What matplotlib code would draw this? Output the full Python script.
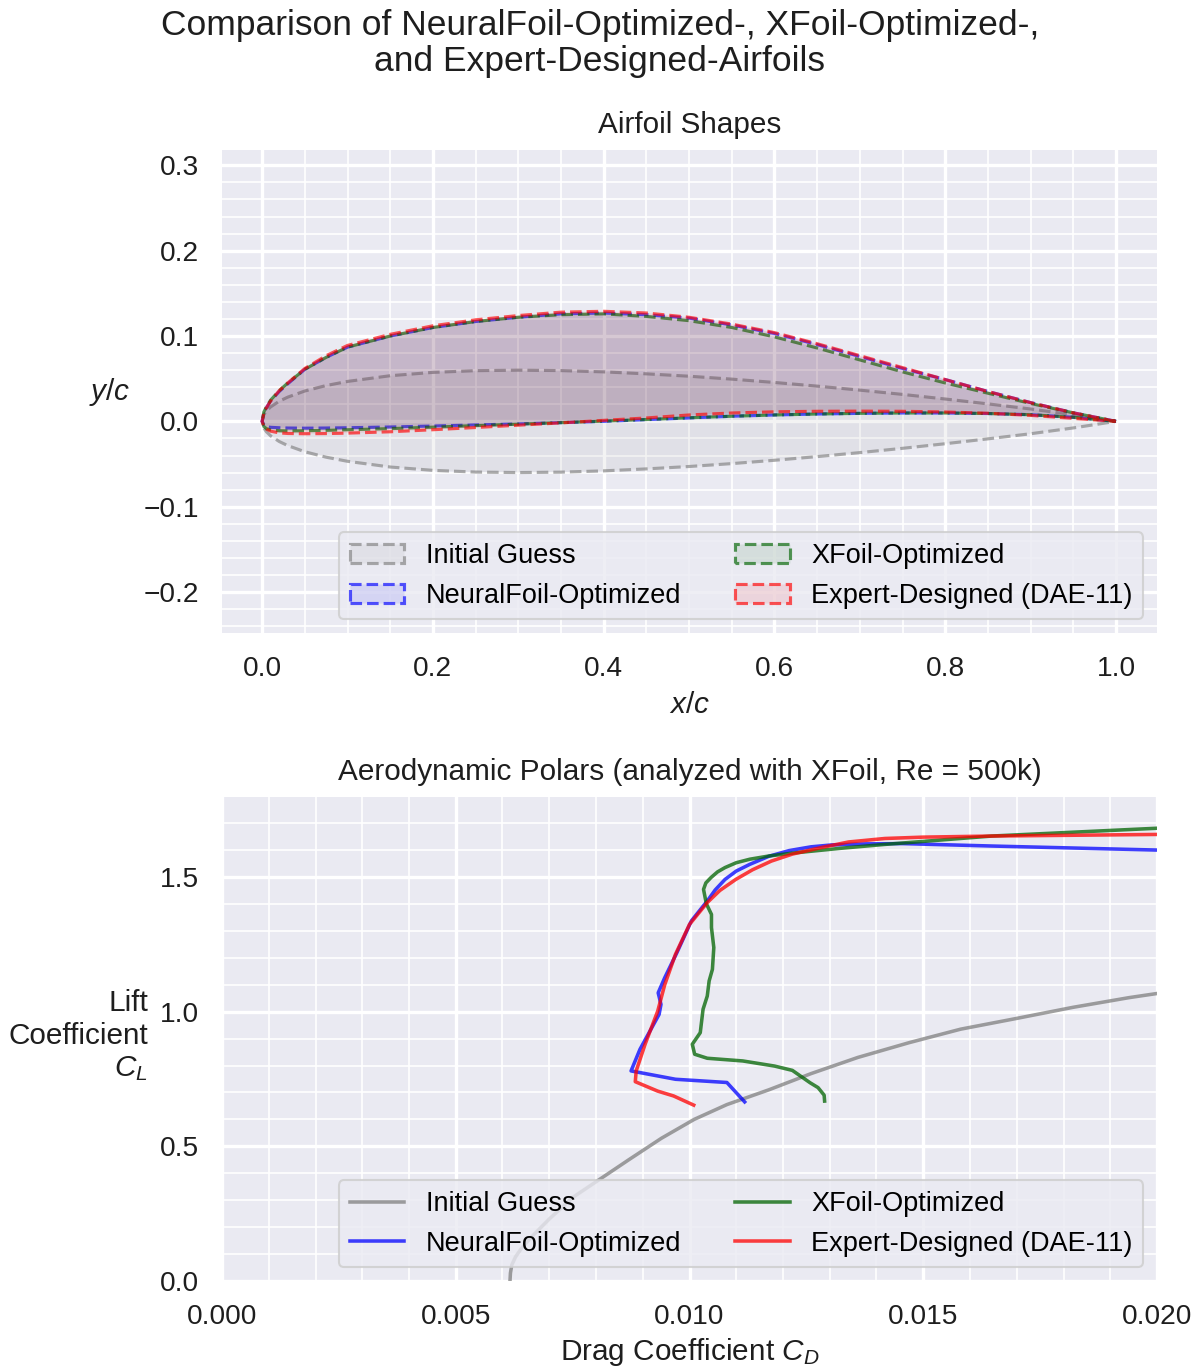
import numpy as np
import matplotlib
matplotlib.use("Agg")
import matplotlib.pyplot as plt
from matplotlib.ticker import AutoMinorLocator, MultipleLocator, FormatStrFormatter
from matplotlib.colors import to_rgba

plt.rcParams['font.family'] = ['Liberation Sans', 'DejaVu Sans']
plt.rcParams['mathtext.fontset'] = 'custom'
plt.rcParams['mathtext.it'] = 'Liberation Sans:italic'
plt.rcParams['mathtext.rm'] = 'Liberation Sans'
plt.rcParams['mathtext.bf'] = 'Liberation Sans:bold'
plt.rcParams['axes.unicode_minus'] = True

# ---------------- data: airfoil shapes ----------------
x_c = [0, 0.002, 0.005, 0.01, 0.02, 0.03, 0.05, 0.075, 0.1, 0.15, 0.2, 0.25, 0.3, 0.35,
       0.4, 0.45, 0.5, 0.55, 0.6, 0.65, 0.7, 0.75, 0.8, 0.85, 0.9, 0.95, 1.0]

init_upper = [0, 0.0078, 0.0122, 0.0170, 0.0236, 0.0284, 0.0356, 0.0420, 0.0468, 0.0535,
              0.0574, 0.0594, 0.0600, 0.0595, 0.0580, 0.0557, 0.0529, 0.0495, 0.0456,
              0.0413, 0.0366, 0.0316, 0.0262, 0.0205, 0.0145, 0.0077, 0.0]
init_lower = [0, -0.0078, -0.0122, -0.0170, -0.0236, -0.0284, -0.0356, -0.0420, -0.0468,
              -0.0535, -0.0574, -0.0594, -0.0600, -0.0595, -0.0580, -0.0557, -0.0529,
              -0.0495, -0.0456, -0.0413, -0.0366, -0.0316, -0.0262, -0.0205, -0.0145,
              -0.0077, 0.0]

nf_upper = [0, 0.010, 0.016, 0.024, 0.035, 0.044, 0.061, 0.075, 0.087, 0.100, 0.110, 0.117,
            0.122, 0.126, 0.127, 0.125, 0.121, 0.113, 0.103, 0.090, 0.076, 0.062, 0.049,
            0.035, 0.022, 0.010, 0.0]
nf_lower = [0, -0.004, -0.006, -0.007, -0.0075, -0.0078, -0.008, -0.0078, -0.0075, -0.0066,
            -0.0055, -0.0042, -0.003, -0.0015, 0.0, 0.002, 0.004, 0.006, 0.0075, 0.0086,
            0.0094, 0.0098, 0.0098, 0.0092, 0.0078, 0.0048, 0.0]

xf_upper = [0, 0.011, 0.017, 0.025, 0.036, 0.045, 0.061, 0.075, 0.087, 0.100, 0.110, 0.117,
            0.122, 0.125, 0.126, 0.123, 0.118, 0.110, 0.099, 0.086, 0.072, 0.058, 0.045,
            0.033, 0.021, 0.010, 0.0]
xf_lower = [0, -0.006, -0.0085, -0.010, -0.011, -0.0112, -0.011, -0.0105, -0.0098, -0.0085,
            -0.0068, -0.005, -0.0033, -0.0015, 0.0003, 0.0022, 0.0042, 0.006, 0.0075,
            0.0086, 0.0094, 0.0098, 0.0098, 0.0092, 0.0078, 0.0048, 0.0]

dae_upper = [0, 0.010, 0.016, 0.024, 0.036, 0.045, 0.062, 0.077, 0.089, 0.102, 0.112, 0.119,
             0.124, 0.128, 0.129, 0.127, 0.122, 0.114, 0.104, 0.091, 0.077, 0.063, 0.049,
             0.035, 0.022, 0.010, 0.0]
dae_lower = [0, -0.006, -0.009, -0.0115, -0.0135, -0.0142, -0.0145, -0.0143, -0.0138, -0.0122,
             -0.0098, -0.0072, -0.0045, -0.0018, 0.0012, 0.004, 0.0075, 0.0098, 0.0112,
             0.0118, 0.012, 0.0118, 0.011, 0.0095, 0.007, 0.0035, 0.0]

# ---------------- data: polars ----------------
init_cd = [0.00616, 0.00617, 0.0062, 0.00628, 0.0064, 0.0066, 0.0068, 0.0070, 0.0075, 0.0081,
           0.0087, 0.0094, 0.0101, 0.0108, 0.0117, 0.0126, 0.0136, 0.0147, 0.0158, 0.0170,
           0.0182, 0.0194, 0.0201]
init_cl = [0.0, 0.03, 0.06, 0.09, 0.12, 0.16, 0.195, 0.23, 0.31, 0.38, 0.45, 0.53, 0.60, 0.655,
           0.71, 0.77, 0.83, 0.885, 0.935, 0.975, 1.016, 1.052, 1.07]

nf_cd = [0.01118, 0.0108, 0.0097, 0.00875, 0.00894, 0.00935, 0.00939, 0.00933, 0.00947,
         0.00973, 0.01004, 0.01038, 0.01055, 0.01076, 0.0110, 0.01129, 0.0117, 0.01213,
         0.0126, 0.01304, 0.0138, 0.01456, 0.01646, 0.0200]
nf_cl = [0.665, 0.737, 0.749, 0.780, 0.86, 0.99, 1.027, 1.070, 1.126, 1.219, 1.337, 1.411,
         1.452, 1.491, 1.522, 1.547, 1.577, 1.598, 1.612, 1.619, 1.623, 1.624, 1.615, 1.600]

xf_cd = [0.01289, 0.01288, 0.01275, 0.01258, 0.0122, 0.01182, 0.01114, 0.01038, 0.01011,
         0.01006, 0.01023, 0.01029, 0.01038, 0.01042, 0.01049, 0.01052, 0.01047, 0.01047,
         0.01036, 0.0103, 0.01035, 0.01046, 0.0106, 0.01076, 0.0110, 0.01129, 0.0117,
         0.01228, 0.0132, 0.01418, 0.01646, 0.0200]
xf_cl = [0.668, 0.69, 0.718, 0.736, 0.782, 0.798, 0.817, 0.827, 0.842, 0.879, 0.922, 1.009,
         1.058, 1.114, 1.157, 1.238, 1.312, 1.361, 1.401, 1.454, 1.478, 1.498, 1.519, 1.535,
         1.553, 1.566, 1.578, 1.590, 1.606, 1.621, 1.652, 1.681]

dae_cd = [0.01009, 0.00966, 0.00932, 0.00884, 0.00886, 0.00905, 0.00932, 0.00947, 0.0097,
          0.0100, 0.01038, 0.01065, 0.01099, 0.01135, 0.01175, 0.0122, 0.01281, 0.0134,
          0.01418, 0.0150, 0.01646, 0.0200]
dae_cl = [0.653, 0.687, 0.705, 0.74, 0.78, 0.879, 1.002, 1.10, 1.213, 1.324, 1.405, 1.45,
          1.491, 1.527, 1.559, 1.585, 1.609, 1.630, 1.643, 1.648, 1.652, 1.658]

labels = ["Initial Guess", "NeuralFoil-Optimized", "XFoil-Optimized", "Expert-Designed (DAE-11)"]
colors = ["gray", "blue", "darkgreen", "red"]

# ---------------- figure ----------------
W, H = 1200, 1369
fig = plt.figure(figsize=(W / 150, H / 150), dpi=150)
ax1 = fig.add_axes([222 / W, 1 - 633 / H, 935 / W, 483 / H])
ax2 = fig.add_axes([222 / W, 1 - 1281 / H, 935 / W, 484 / H])

txt = '#1e1e1e'
bg = "#EAEAF2"
for ax in (ax1, ax2):
    ax.set_facecolor(bg)
    for s in ax.spines.values():
        s.set_visible(False)
    ax.xaxis.set_minor_locator(AutoMinorLocator())
    ax.yaxis.set_minor_locator(AutoMinorLocator())
    ax.grid(which='major', color='white', linewidth=1.6)
    ax.grid(which='minor', color='white', linewidth=0.8)
    ax.set_axisbelow(True)
    ax.tick_params(which='both', length=0, labelsize=13.5, pad=11, labelcolor=txt)

# ---- top: shapes ----
x_arr = np.array(x_c)
shapes = [(init_upper, init_lower), (nf_upper, nf_lower), (xf_upper, xf_lower),
          (dae_upper, dae_lower)]
offsets = [0, 0, 2.5, 5.0]
for (up, lo), c, lab, off in zip(shapes, colors, labels, offsets):
    xp = np.concatenate([x_arr[::-1], x_arr[1:]])
    yp = np.concatenate([np.array(up)[::-1], np.array(lo)[1:]])
    ax1.fill(xp, yp, facecolor=to_rgba(c, 0.09), edgecolor=to_rgba(c, 0.65),
             linestyle=(off, (3.7, 1.6)), linewidth=1.5, label=lab)

ax1.set_xlim(-0.047, 1.048)
ax1.set_ylim(-0.248, 0.318)
ax1.xaxis.set_major_locator(MultipleLocator(0.2))
ax1.yaxis.set_major_locator(MultipleLocator(0.1))
ax1.set_title("Airfoil Shapes", fontsize=14.3, pad=8, color=txt)
ax1.set_xlabel("$x/c$", fontsize=14.3, va='center', color=txt)
ax1.xaxis.set_label_coords(0.5, -0.149)
ax1.set_ylabel("$y/c$", fontsize=14.3, rotation=0, ha='right', va='center', color=txt)
ax1.yaxis.set_label_coords(-0.098, 0.5)
ax1.legend(ncol=2, loc='lower right', fontsize=13, frameon=True,
           facecolor=bg, edgecolor='0.8', framealpha=0.8)

# ---- bottom: polars ----
polars = [(init_cd, init_cl), (nf_cd, nf_cl), (xf_cd, xf_cl), (dae_cd, dae_cl)]
for (cd, cl), c, lab in zip(polars, colors, labels):
    ax2.plot(cd, cl, color=c, alpha=0.75, linewidth=1.7, label=lab,
             solid_joinstyle='round')

ax2.set_xlim(0, 0.02)
ax2.set_ylim(0, 1.797)
ax2.xaxis.set_major_locator(MultipleLocator(0.005))
ax2.yaxis.set_major_locator(MultipleLocator(0.5))
ax2.xaxis.set_major_formatter(FormatStrFormatter('%.3f'))
ax2.yaxis.set_major_formatter(FormatStrFormatter('%.1f'))
ax2.set_title("Aerodynamic Polars (analyzed with XFoil, Re = 500k)", fontsize=14.3, pad=8,
              color=txt)
ax2.set_xlabel("Drag Coefficient $C_D$", fontsize=14.3, va='center', color=txt)
ax2.xaxis.set_label_coords(0.5, -0.1467)
ax2.set_ylabel("Lift\nCoefficient\n$C_L$", fontsize=14.3, rotation=0, ha='right',
               va='center', multialignment='right', color=txt)
ax2.yaxis.set_label_coords(-0.079, 0.506)
ax2.legend(ncol=2, loc='lower right', fontsize=13, frameon=True,
           facecolor=bg, edgecolor='0.8', framealpha=0.8)

fig.suptitle("Comparison of NeuralFoil-Optimized-, XFoil-Optimized-,\nand Expert-Designed-Airfoils",
             fontsize=17, y=1 - 9 / H, va='top', color=txt, linespacing=1.1)

fig.savefig("out.png", dpi=150)
